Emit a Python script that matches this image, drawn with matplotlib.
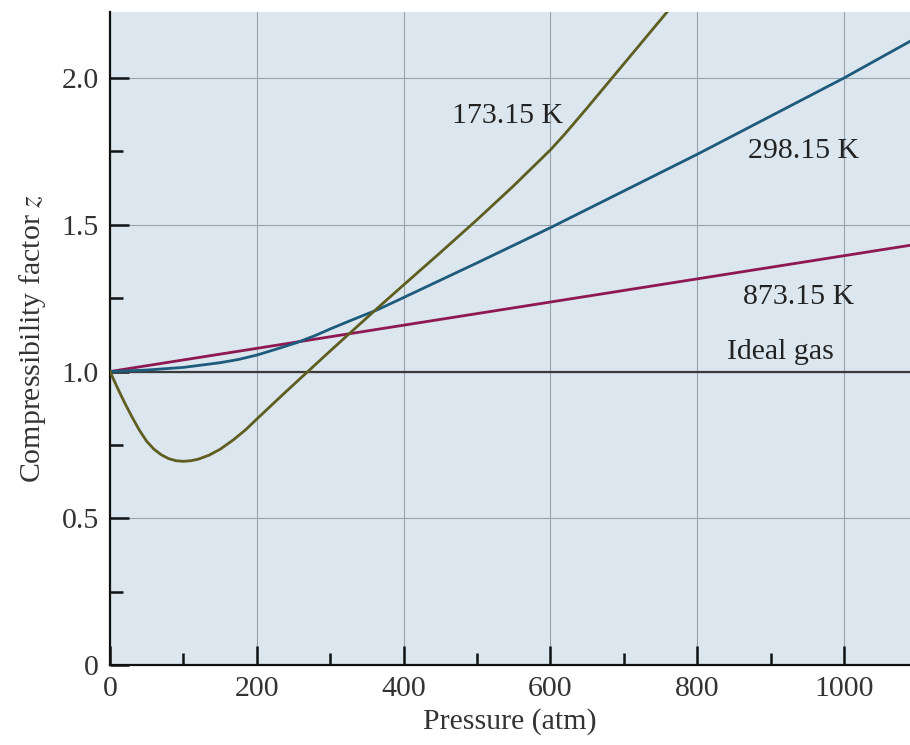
import matplotlib
matplotlib.use("Agg")
import matplotlib.pyplot as plt
from matplotlib.ticker import MultipleLocator, FuncFormatter

# ── data ────────────────────────────────────────────────────────────
p_173 = [0, 10, 20, 30, 40, 50, 60, 70, 80, 90, 100, 110, 120, 135, 150,
         168, 185, 200, 220, 240, 260, 280, 300, 330, 364, 400, 450, 500,
         550, 600, 620, 650, 684, 720, 760]
z_173 = [1.0, 0.945, 0.893, 0.845, 0.80, 0.762, 0.735, 0.716, 0.703,
         0.696, 0.694, 0.696, 0.701, 0.715, 0.735, 0.767, 0.802, 0.838,
         0.885, 0.932, 0.978, 1.024, 1.07, 1.138, 1.215, 1.295, 1.405,
         1.517, 1.633, 1.755, 1.81, 1.898, 2.0, 2.108, 2.228]

p_298 = [0, 50, 100, 150, 175, 200, 225, 254, 280, 300, 330, 364, 400,
         500, 600, 700, 800, 900, 1000, 1090]
z_298 = [1.0, 1.005, 1.014, 1.03, 1.041, 1.056, 1.075, 1.098, 1.123, 1.145,
         1.176, 1.21, 1.252, 1.37, 1.49, 1.615, 1.74, 1.87, 2.0, 2.125]

p_873 = [0, 1090]
z_873 = [1.0, 1.43]

p_ideal = [0, 1090]
z_ideal = [1.0, 1.0]

# ── colours ─────────────────────────────────────────────────────────
CLR_BG = "#dbe6ee"
CLR_GRID = "#98a2aa"
CLR_173 = "#5f5d1f"
CLR_298 = "#1d5a7c"
CLR_873 = "#8d1852"
CLR_IDEAL = "#3b3b3b"
FS = 21.5

plt.rcParams["font.family"] = ["Liberation Serif", "DejaVu Serif"]
plt.rcParams["mathtext.fontset"] = "stix"

fig = plt.figure(figsize=(9.1, 7.45), dpi=100)
ax = fig.add_axes([0.1209, 0.1074, 1.0 - 0.1209, 0.9839 - 0.1074])
ax.set_facecolor(CLR_BG)

ax.plot(p_ideal, z_ideal, color=CLR_IDEAL, lw=1.6, zorder=3)
ax.plot(p_873, z_873, color=CLR_873, lw=2.0, zorder=4)
ax.plot(p_298, z_298, color=CLR_298, lw=2.0, zorder=4)
ax.plot(p_173, z_173, color=CLR_173, lw=2.0, zorder=4,
        solid_joinstyle="round")

# curve labels
txt = dict(fontsize=FS, color="#222222", ha="left", va="baseline", zorder=5)
ax.text(466, 1.847, "173.15 K", **txt)
ax.text(869, 1.727, "298.15 K", **txt)
ax.text(862, 1.230, "873.15 K", **txt)
ax.text(841, 1.043, "Ideal gas", **txt)

ax.set_xlim(0, 1090)
ax.set_ylim(0, 2.225)
ax.xaxis.set_major_locator(MultipleLocator(200))
ax.xaxis.set_minor_locator(MultipleLocator(100))
ax.yaxis.set_major_locator(MultipleLocator(0.5))
ax.yaxis.set_minor_locator(MultipleLocator(0.25))
ax.yaxis.set_major_formatter(
    FuncFormatter(lambda v, _: "0" if v == 0 else f"{v:.1f}"))

ax.grid(True, which="major", color=CLR_GRID, lw=0.8, zorder=1)
ax.set_axisbelow(True)

for side in ("top", "right"):
    ax.spines[side].set_visible(False)
for side in ("left", "bottom"):
    ax.spines[side].set_linewidth(1.6)
    ax.spines[side].set_color("#111111")

ax.tick_params(which="major", direction="in", length=14, width=1.8,
               labelsize=FS, pad=8, colors="#111111", labelcolor="#333333")
ax.tick_params(which="minor", direction="in", length=9, width=1.8,
               colors="#111111")

ax.set_xlabel("Pressure (atm)", fontsize=FS, color="#333333", labelpad=4)
ax.set_ylabel("Compressibility factor $z$", fontsize=FS,
              color="#333333", labelpad=10)

fig.savefig("out.png", dpi=100)
